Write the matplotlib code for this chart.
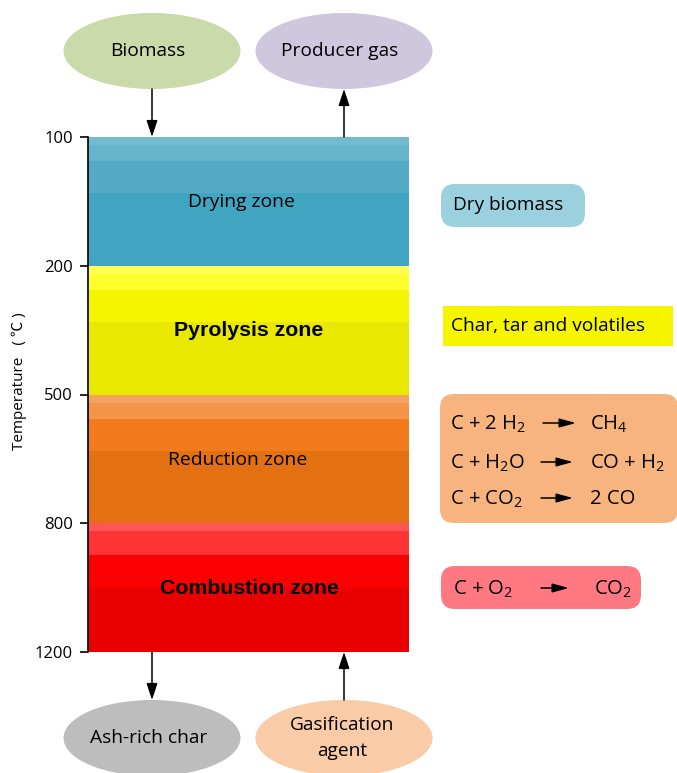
import matplotlib
matplotlib.use('Agg')
import matplotlib.pyplot as plt
from matplotlib.patches import Ellipse, FancyBboxPatch

W, H = 677, 773

temps = ['100', '200', '500', '800', '1200']
zones = ['Drying zone', 'Pyrolysis zone', 'Reduction zone', 'Combustion zone']
zone_bold = [False, True, False, True]
# share of each zone taken up by the stripes, top to bottom
zone_stripes = [
    [0.0625, 0.125, 0.25, 0.5625],
    [0.0625, 0.125, 0.25, 0.5625],
    [0.0625, 0.125, 0.25, 0.5625],
    [0.0625, 0.1875, 0.25, 0.5],
]
zone_colors = [
    ['#74bad0', '#66b5cd', '#55abc6', '#41a5c1'],
    ['#ffff55', '#ffff2d', '#f5f500', '#e8e800'],
    ['#f5a262', '#f4954a', '#f27b1e', '#e37011'],
    ['#ff5555', '#ff3333', '#fa0000', '#e90000'],
]

plt.rcParams['font.family'] = ['Open Sans', 'DejaVu Sans']
plt.rcParams['mathtext.default'] = 'regular'

fig = plt.figure(figsize=(W / 100, H / 100), dpi=100)

# chart column, one unit per temperature step
ax = fig.add_axes([88 / W, 1 - 652 / H, 321 / W, 515 / H])
for i, (shares, cols) in enumerate(zip(zone_stripes, zone_colors)):
    left = i
    for share, col in zip(shares, cols):
        ax.bar(0.5, share, width=1, bottom=left, color=col, linewidth=0)
        left += share
ax.set_xlim(0, 1)
ax.set_ylim(4, 0)
ax.set_xticks([])
ax.set_yticks(range(5))
ax.set_yticklabels(temps, fontsize=12)
ax.tick_params(axis='y', length=5.8, width=1.2, pad=5)
for s in ['top', 'right', 'bottom']:
    ax.spines[s].set_visible(False)
ax.spines['left'].set_linewidth(1.2)
ax.set_ylabel('Temperature   ( ℃ )', fontsize=11,
              family=['Open Sans', 'Noto Sans CJK SC', 'DejaVu Sans'])
ax.yaxis.set_label_coords(-0.19, 0.526)

zone_x = [0.477, 0.501, 0.466, 0.502]
zone_y = [0.505, 1.505, 2.51, 3.505]
for name, bold, x, y in zip(zones, zone_bold, zone_x, zone_y):
    if bold:
        ax.text(x, y, name, ha='center', va='center', fontsize=15.3,
                fontweight='bold', family='Liberation Sans')
    else:
        ax.text(x, y, name, ha='center', va='center', fontsize=13.9)

# everything around the column, in pixels
ov = fig.add_axes([0, 0, 1, 1], facecolor='none')
ov.set_xlim(0, W)
ov.set_ylim(H, 0)
ov.axis('off')

ellipses = [
    (152, 51, 'Biomass', '#cbdaaa', 148),
    (344, 51, 'Producer gas', '#cfc7de', 340),
    (152, 738, 'Ash-rich char', '#bdbdbd', 148.5),
    (344, 738, 'Gasification\nagent', '#f9cba6', 342),
]
for x, y, label, col, tx in ellipses:
    ov.add_patch(Ellipse((x, y), 177, 76, facecolor=col, edgecolor='none'))
    ov.text(tx, y, label, ha='center', va='center', fontsize=13.8, linespacing=1.55)

arrows = [
    ((152, 89), (152, 137)),
    ((344, 137), (344, 89)),
    ((152, 652), (152, 700)),
    ((344, 700), (344, 652)),
]
for start, end in arrows:
    ov.annotate('', xy=end, xytext=start,
                arrowprops=dict(arrowstyle='-|>,head_width=0.33,head_length=1.0',
                                color='black', lw=1.1, shrinkA=0, shrinkB=0))

boxes = [
    (441, 184, 144, 43, 14, '#9bd0df'),
    (440, 394, 238, 129, 14, '#f7b47e'),
    (441, 566, 200, 43, 14, '#ff7882'),
]
for x, y, w, h, r, col in boxes:
    ov.add_patch(FancyBboxPatch((x + r, y + r), w - 2 * r, h - 2 * r,
                                boxstyle='round,pad=%d,rounding_size=%d' % (r, r),
                                facecolor=col, edgecolor='none'))
ov.add_patch(plt.Rectangle((443, 306), 230, 40, facecolor='#f5f500', edgecolor='none'))

ov.text(453, 205, 'Dry biomass', ha='left', va='center', fontsize=13.7)
ov.text(451, 326, 'Char, tar and volatiles', ha='left', va='center', fontsize=13.8)

reactants = ['C + 2 H$_2$', 'C + H$_2$O', 'C + CO$_2$', 'C + O$_2$']
products = ['CH$_4$', 'CO + H$_2$', '2 CO', 'CO$_2$']
eq_x = [450, 450, 450, 453]
eq_y = [424, 463, 499, 589]
arrow_x = [(543, 576), (541, 573), (541, 573), (541, 569)]
prod_x = [590, 590, 590, 594]
for r, p, x, y, ax_pair, px in zip(reactants, products, eq_x, eq_y, arrow_x, prod_x):
    ov.text(x, y, r, ha='left', va='center', fontsize=14.6)
    ov.text(px, y, p, ha='left', va='center', fontsize=14.6)
    ov.annotate('', xy=(ax_pair[1], y - 1), xytext=(ax_pair[0], y - 1),
                arrowprops=dict(arrowstyle='-|>,head_width=0.27,head_length=1.0',
                                color='black', lw=1.1, shrinkA=0, shrinkB=0))

plt.savefig('out.png', dpi=100)
